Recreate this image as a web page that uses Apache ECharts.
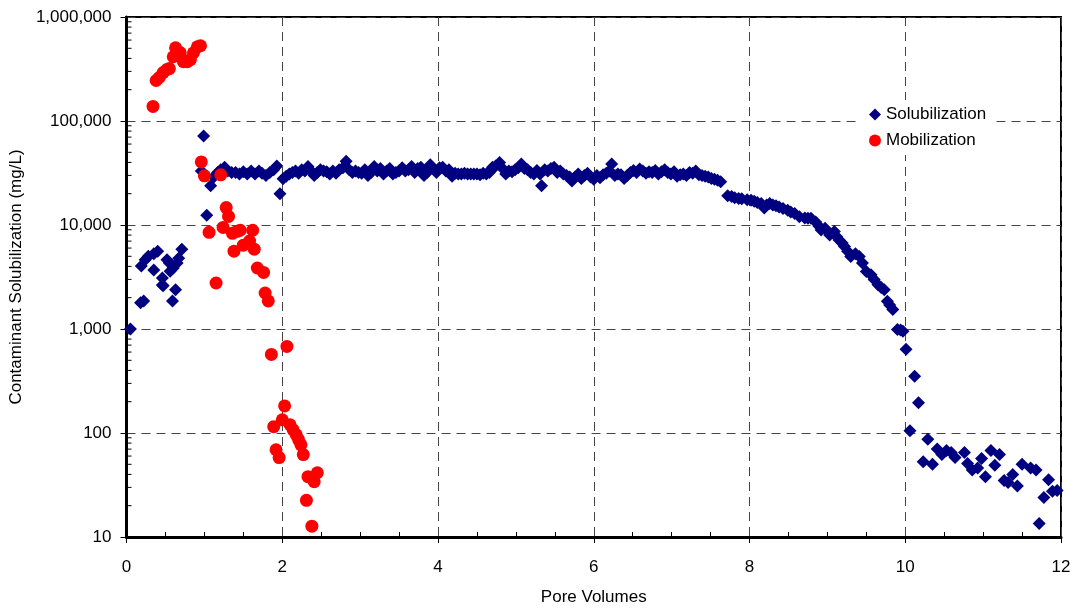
<!DOCTYPE html>
<html>
<head>
<meta charset="utf-8">
<script src="https://cdn.jsdelivr.net/npm/echarts@6/dist/echarts.min.js"></script>
<style>
  html, body { margin: 0; padding: 0; background: #fff; }
  #soluChart { width: 1074px; height: 611px; }
</style>
</head>
<body>
<div id="soluChart"></div>
<script>
// pore volumes / concentration (mg/L)
var soluX = [0.05, 0.18, 0.22, 0.19, 0.24, 0.28, 0.35, 0.40, 0.35, 0.46, 0.46, 0.47, 0.52, 0.55, 0.56, 0.60, 0.65, 0.67, 0.71, 0.63, 0.59,
  0.96, 0.99, 1.03, 1.08,
  1.12, 1.17, 1.21, 1.26, 1.30, 1.35, 1.40, 1.45, 1.50, 1.55, 1.60, 1.65, 1.70, 1.74, 1.79, 1.84, 1.89, 1.93, 1.97,
  2.01, 2.05, 2.09, 2.13, 2.17, 2.21, 2.25, 2.29, 2.33, 2.37, 2.41, 2.45, 2.49, 2.53, 2.57, 2.61, 2.65, 2.69, 2.73, 2.78, 2.82, 2.86, 2.90, 2.94, 2.98,
  3.02, 3.06, 3.10, 3.14, 3.18, 3.22, 3.26, 3.30, 3.34, 3.38, 3.42, 3.46, 3.50, 3.54, 3.58, 3.62, 3.66, 3.70, 3.74, 3.78, 3.82, 3.86, 3.90, 3.94, 3.98,
  4.02, 4.06, 4.10, 4.14, 4.18, 4.22, 4.26, 4.30, 4.34, 4.38, 4.42, 4.46, 4.50, 4.54, 4.58, 4.62, 4.66, 4.70, 4.74, 4.79, 4.83, 4.87, 4.91, 4.95, 4.99,
  5.03, 5.07, 5.11, 5.15, 5.19, 5.23, 5.27, 5.31, 5.33, 5.37, 5.41, 5.45, 5.49, 5.53, 5.57, 5.61, 5.65, 5.69, 5.72, 5.76, 5.80, 5.84, 5.88, 5.92, 5.96,
  6.00, 6.04, 6.08, 6.12, 6.16, 6.20, 6.23, 6.27, 6.31, 6.35, 6.39, 6.43, 6.47, 6.51, 6.55, 6.59, 6.63, 6.67, 6.71, 6.75, 6.79, 6.83, 6.87, 6.91, 6.95, 6.99,
  7.03, 7.07, 7.11, 7.15, 7.19, 7.23, 7.27, 7.31, 7.35, 7.39, 7.43, 7.47, 7.51, 7.55, 7.59, 7.63,
  7.72, 7.77, 7.81, 7.86, 7.90, 7.97, 8.02, 8.06, 8.10, 8.15, 8.19, 8.22, 8.26, 8.30, 8.34, 8.38, 8.43, 8.49, 8.53, 8.58, 8.64, 8.71, 8.75, 8.79, 8.85, 8.89, 8.92, 8.97,
  9.03, 9.09, 9.12, 9.15, 9.19, 9.22, 9.26, 9.30, 9.36, 9.41, 9.45, 9.50, 9.56, 9.60, 9.65, 9.69, 9.73, 9.77, 9.80, 9.84, 9.90, 9.94, 9.97, 10.01,
  10.06, 10.12, 10.17, 10.23, 10.29, 10.35, 10.41, 10.47, 10.53, 10.59, 10.64, 10.76, 10.80, 10.86, 10.93, 10.98,
  11.03, 11.10, 11.15, 11.21, 11.27, 11.32, 11.38, 11.44, 11.50, 11.61, 11.68, 11.72, 11.78, 11.84, 11.89, 11.95];
var soluY = [1000, 1790, 1860, 4030, 4630, 5000, 5300, 5600, 3690, 3090, 2650, 2600, 4630, 4300, 3600, 3860, 4300, 4800, 5850, 2380, 1860,
  33000, 71600, 12400, 23900,
  29000, 32000, 34000, 36000, 33000, 32000, 32000, 31000, 32500, 31000, 33000, 31000, 33000, 31500, 30000, 32000, 34000, 37000, 20000,
  27800, 29500, 31000, 32000, 33000, 31500, 34000, 33000, 36500, 33000, 30000, 32000, 34000, 33000, 32500, 31000, 33000, 31500, 34000, 35500, 41000, 34000, 32000, 33000, 32000,
  31500, 34000, 30000, 32000, 36500, 33000, 35000, 31000, 33000, 35000, 31000, 32000, 33000, 35500, 33000, 34000, 36500, 32000, 35000, 36000, 30000, 32000, 38000, 34500, 32000,
  35500, 36000, 33000, 34000, 29500, 31500, 31000, 31000, 31500, 31000, 31000, 31000, 31000, 30500, 31500, 31000, 32000, 36000, 37000, 40000, 35000, 31000, 33000, 32500, 34000,
  35500, 38500, 35000, 34000, 32000, 31000, 33500, 31000, 23900, 34000, 33000, 35000, 36000, 32000, 33000, 31000, 30000, 29000, 26500, 29000, 31000, 28000, 30000, 31500, 29000,
  27500, 30000, 28500, 30500, 31500, 33000, 38500, 30000, 31000, 30500, 28000, 30000, 32000, 33500, 32000, 34500, 33000, 31500, 32500, 32000, 33500, 31000, 32500, 34000, 32000, 31000,
  32500, 29500, 30500, 31000, 30000, 32000, 31500, 33000, 30500, 30000, 29500, 29000, 28000, 27500, 27000, 26000,
  19150, 18800, 18300, 18000, 17900, 17500, 17300, 16900, 16500, 16100, 14600, 15600, 16100, 15600, 15300, 14900, 14400, 13900, 13300, 12900, 12000, 11700, 11600, 11600, 10700, 9800, 8950, 9300,
  8020, 8650, 7700, 7180, 6700, 6210, 5600, 4990, 5300, 4990, 4300, 3580, 3320, 3000, 2670, 2500, 2390, 1850, 1700, 1540, 990, 980, 950, 640,
  105, 352, 195, 53, 87, 50, 70, 62, 68, 65, 58, 65, 51, 44, 46, 57,
  38, 68, 49, 62, 35, 33.5, 40, 31, 50, 46, 44, 13.5, 24, 35.5, 27.5, 28];

var mobiX = [0.34, 0.38, 0.42, 0.47, 0.52, 0.55, 0.60, 0.63, 0.67, 0.69, 0.73, 0.78, 0.82, 0.86, 0.91, 0.95,
  0.96, 1.00, 1.06, 1.15, 1.21, 1.24, 1.28, 1.31, 1.36, 1.38, 1.42, 1.46, 1.50, 1.58, 1.62, 1.64, 1.68, 1.76, 1.78, 1.82,
  1.86, 1.89, 1.92, 1.96, 2.00, 2.03, 2.06, 2.10, 2.14, 2.18, 2.21, 2.24, 2.27, 2.31, 2.33, 2.38, 2.41, 2.45];
var mobiY = [138000, 245000, 262000, 292000, 313000, 319000, 415000, 506000, 463000, 453000, 372000, 372000, 389000, 453000, 517000, 529000,
  40400, 29700, 8500, 2770, 30400, 9480, 14700, 12100, 8310, 5600, 8700, 8900, 6400, 7000, 8900, 5850, 3860, 3500, 2220, 1860,
  570, 115, 69, 58, 134, 182, 680, 120, 107, 96, 86, 77, 62, 22.5, 38, 12.7, 34, 41.5];

var seriesNames = ["Solubilization", "Mobilization"];
var yTicks = [10, 100, 1000, 10000, 100000, 1000000];

function pairs(xs, ys) {
  return xs.map(function (x, i) { return [x, ys[i]]; });
}

var fontFam = "'Liberation Sans', Arial, sans-serif";
var chart = echarts.init(document.getElementById("soluChart"));

var option = {
  animation: false,
  backgroundColor: "#fff",
  textStyle: { fontFamily: fontFam },
  grid: {
    left: 126, right: 13, top: 17, bottom: 70,
    show: true, borderColor: "#000", borderWidth: 2
  },
  legend: {
    orient: "vertical",
    left: 857, top: 100,
    backgroundColor: "#fff",
    padding: [6, 6, 6, 12],
    itemWidth: 12, itemHeight: 12,
    itemGap: 9,
    textStyle: { fontSize: 17, color: "#000", fontFamily: fontFam },
    data: [
      { name: seriesNames[0], icon: "diamond" },
      { name: seriesNames[1], icon: "circle" }
    ]
  },
  xAxis: {
    type: "value",
    min: 0, max: 12, interval: 2,
    name: "Pore Volumes",
    nameLocation: "middle",
    nameGap: 52,
    nameTextStyle: { fontSize: 17, color: "#000", fontFamily: fontFam },
    axisLine: { lineStyle: { color: "#000", width: 3 } },
    axisTick: { show: true, length: 6, lineStyle: { color: "#000", width: 1 } },
    minorTick: { show: true, splitNumber: 4, length: -5, lineStyle: { color: "#000", width: 1 } },
    axisLabel: { fontSize: 17, color: "#000", margin: 22, fontFamily: fontFam },
    splitLine: { show: true, lineStyle: { color: "#444", type: [9, 6], width: 1 } }
  },
  yAxis: {
    type: "log",
    logBase: 10,
    min: 10, max: 1000000,
    name: "Contaminant Solubilization (mg/L)",
    nameLocation: "middle",
    nameGap: 96,
    nameTextStyle: { fontSize: 17, color: "#000", fontFamily: fontFam },
    axisLine: { lineStyle: { color: "#000", width: 3 } },
    axisTick: { show: true, length: 6, lineStyle: { color: "#000", width: 1 } },
    axisLabel: {
      fontSize: 17, color: "#000", margin: 15, fontFamily: fontFam,
      formatter: function (v) { return Math.round(v).toLocaleString("en-US"); }
    },
    splitLine: { show: true, lineStyle: { color: "#444", type: [9, 6], width: 1 } }
  },
  series: [
    {
      name: seriesNames[0],
      type: "scatter",
      symbol: "diamond",
      symbolSize: 13,
      itemStyle: { color: "#000080", opacity: 1 },
      data: pairs(soluX, soluY)
    },
    {
      name: seriesNames[1],
      type: "scatter",
      symbol: "circle",
      symbolSize: 13,
      itemStyle: { color: "#ff0000", opacity: 1 },
      data: pairs(mobiX, mobiY)
    }
  ]
};
chart.setOption(option);

// inward minor ticks on the log axis at 2..9 of each decade
var minorLines = [];
var axisX = chart.convertToPixel({ xAxisIndex: 0 }, 0);
yTicks.slice(0, -1).forEach(function (d) {
  for (var m = 2; m <= 9; m++) {
    var py = chart.convertToPixel({ yAxisIndex: 0 }, m * d);
    minorLines.push({
      type: "line",
      shape: { x1: axisX, y1: py, x2: axisX + 5, y2: py },
      style: { stroke: "#000", lineWidth: 1 },
      silent: true
    });
  }
});
chart.setOption({ graphic: minorLines });
</script>
</body>
</html>
